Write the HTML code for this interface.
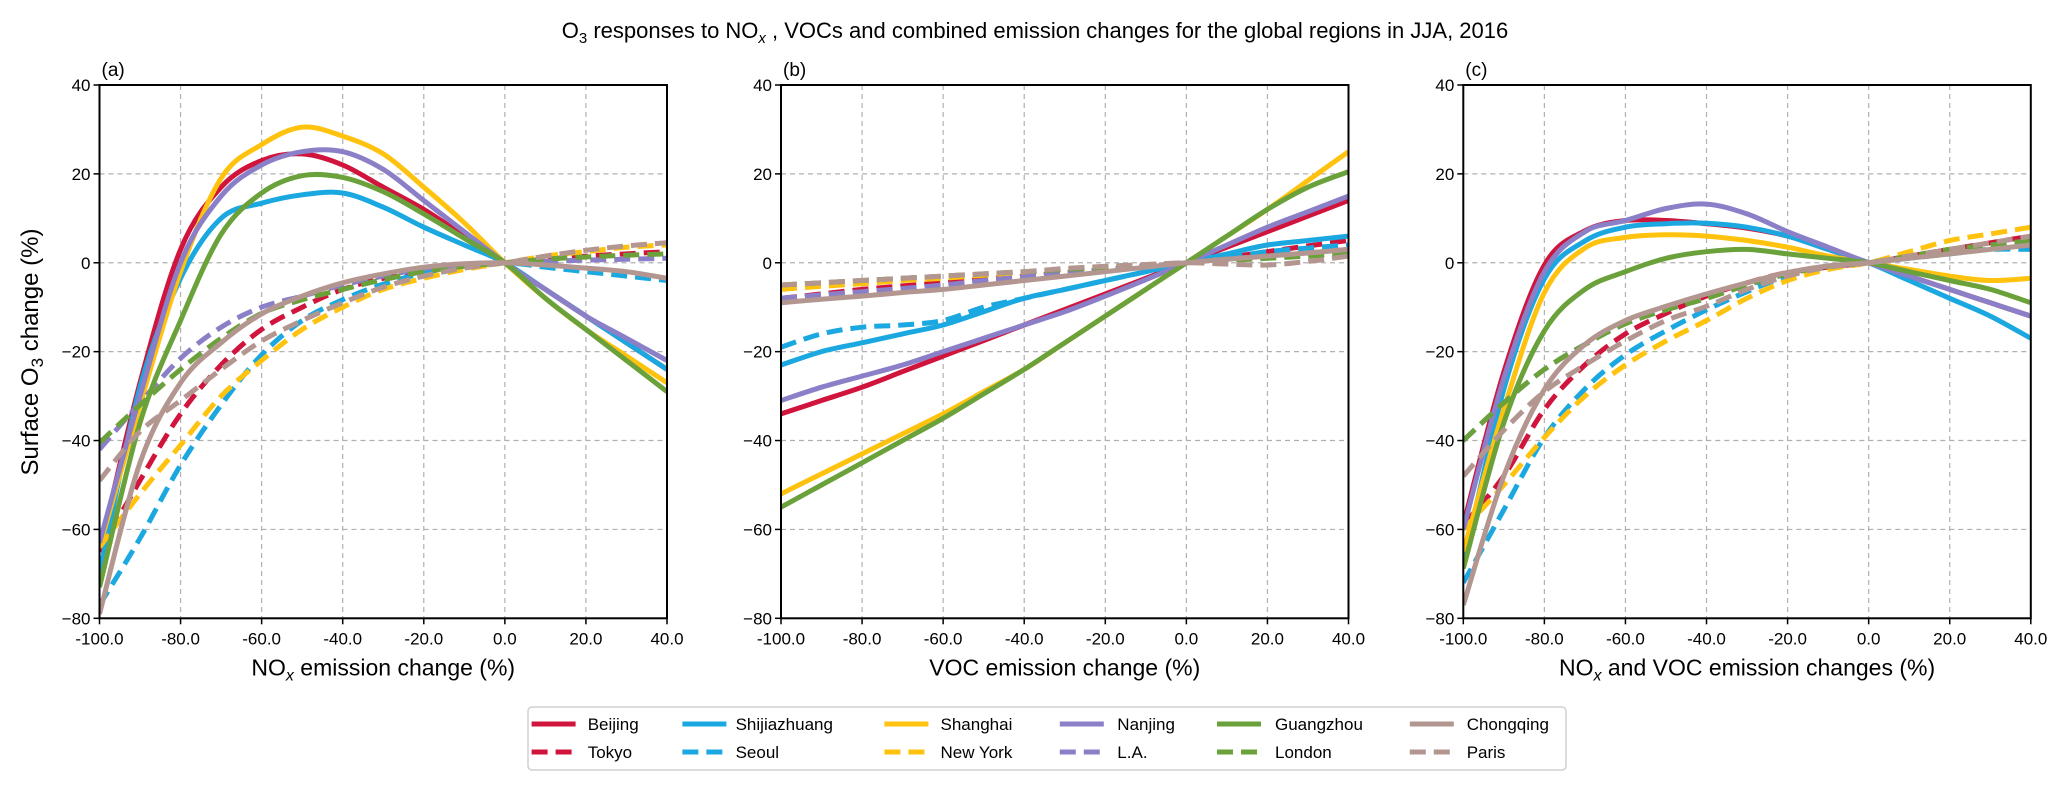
<!DOCTYPE html>
<html><head><meta charset="utf-8"><style>
html,body{margin:0;padding:0;background:#fff;}
svg{display:block;font-family:"Liberation Sans",Arial,sans-serif;}
</style></head><body>
<svg id="chart" width="2067" height="789" viewBox="0 0 2067 789" xmlns="http://www.w3.org/2000/svg">
<text x="1035" y="38" font-size="22" text-anchor="middle">O<tspan font-size="15" dy="5">3</tspan><tspan dy="-5"> responses to NO</tspan><tspan font-size="15" dy="5" font-style="italic">x</tspan><tspan dy="-5"> , VOCs and combined emission changes for the global regions in JJA, 2016</tspan></text>
<text transform="translate(38,352) rotate(-90)" font-size="24" text-anchor="middle">Surface O<tspan font-size="17" dy="5">3</tspan><tspan dy="-5"> change (%)</tspan></text>
<g id="panels"></g>
<g id="legend"></g>
</svg>
<script>
const xCats = [-100,-90,-80,-70,-60,-50,-40,-30,-20,-10,0,10,20,30,40];
const yTicks = [40,20,0,-20,-40,-60,-80];
const xTicks = [-100,-80,-60,-40,-20,0,20,40];
const cities = ["Beijing","Tokyo","Shijiazhuang","Seoul","Shanghai","New York","Nanjing","L.A.","Guangzhou","London","Chongqing","Paris"];
const panelALabels = ["(a)","(b)","(c)"];

const aBeijing=[-65,-27,3,17,23,24.5,22,17,12,6,0,-6,-12,-18,-24];
const aTokyo=[-65,-49,-34,-23,-15,-10,-6,-3.5,-1.8,-0.6,0,0.8,1.5,2,2.5];
const aShijiazhuang=[-70,-28,-3.5,10,13.4,15.3,15.7,12.5,8,4,0,-6,-12,-18,-24];
const aSeoul=[-77,-62,-45.5,-32,-20.7,-13,-8.3,-4.8,-2.3,-0.8,0,-1,-2,-3,-4];
const aShanghai=[-64,-32,-2,19,26.6,30.5,28.5,24.5,17,9,0,-8,-15,-21,-27];
const aNewYork=[-64,-52,-41,-30,-22,-15,-10,-6,-3.5,-1.5,0,1.5,2.5,3.5,4];
const aNanjing=[-63,-30,0,15,22,25,25,21,14,7,0,-6,-12,-17,-22];
const aLA=[-42,-31.5,-21.5,-14.5,-10,-7.5,-5,-3,-1.3,-0.4,0,0.3,0.6,0.8,1];
const aGuangzhou=[-73,-36,-13,6.4,15.7,19.6,19.2,16,11,5.5,0,-8,-15,-22,-29];
const aLondon=[-40.5,-32,-24,-17,-11.4,-8.3,-6,-3.8,-2,-0.8,0,0.8,1.3,1.7,2];
const aChongqing=[-79,-45,-27,-18,-11.5,-7.5,-4.5,-2.5,-1,-0.2,0,-0.5,-1.2,-2,-3.5];
const aParis=[-49,-38,-31,-24,-17.6,-13,-9,-5.5,-3,-1.2,0,1.5,2.8,3.8,4.5];

const bBeijing=[-34,-31,-28,-24.5,-21,-17.5,-14,-10.5,-7,-3.5,0,3.5,7,10.5,14];
const bTokyo=[-8,-7,-6,-5.2,-4.5,-3.7,-3,-2.2,-1.5,-0.7,0,1.2,2.5,3.8,5];
const bShijiazhuang=[-23,-20,-18,-16,-14,-11,-8,-6,-4,-2,0,2,4,5,6];
const bSeoul=[-19,-16,-14.5,-14,-13,-10,-8,-6,-4,-2,0,1.2,2.5,3.3,4];
const bShanghai=[-52,-47.5,-43,-38.5,-34,-29,-24,-18,-12,-6,0,6,12,18.5,25];
const bNewYork=[-6,-5.3,-4.7,-4,-3.5,-2.8,-2.2,-1.6,-1,-0.5,0,0.8,1.5,2.2,3];
const bNanjing=[-31,-28,-25.5,-23,-20,-17,-14,-11,-7.5,-3.8,0,4,8,11.5,15];
const bLA=[-8,-7.2,-6.5,-5.8,-5,-4,-3.2,-2.3,-1.5,-0.7,0,0.8,1.5,2.2,3];
const bGuangzhou=[-55,-50,-45,-40,-35,-29.5,-24,-18,-12,-6,0,6,12,17,20.5];
const bLondon=[-5,-4.5,-4,-3.5,-3,-2.5,-2,-1.5,-1,-0.5,0,0.5,1,1.5,2];
const bChongqing=[-9,-8.2,-7.5,-6.7,-6,-5,-4,-3,-2,-1,0,0.8,1.5,2.2,3];
const bParis=[-5,-4.5,-4,-3.5,-3,-2.5,-2,-1.3,-0.8,-0.4,0,-0.3,-0.5,0.3,1.5];

const cBeijing=[-59,-24.6,-0.5,7.2,9.5,9.5,8.8,7.8,6,3,0,-3,-6,-9,-12];
const cTokyo=[-59,-48,-33,-23,-16,-11.4,-7.5,-4.5,-2.2,-1,0,1.5,3,4.5,6];
const cShijiazhuang=[-68,-28.5,-3.6,4.9,8,8.8,8.9,8,6,3,0,-4,-8,-12,-17];
const cSeoul=[-72,-55.6,-39.3,-28.4,-20.7,-15.3,-10.6,-6.5,-3,-1.2,0,1,2,3,3];
const cShanghai=[-65,-33,-6.7,3.3,5.7,6.3,6,5,3.5,1.5,0,-1.5,-3,-4,-3.5];
const cNewYork=[-60,-50,-39.3,-30,-23,-17.6,-13,-8,-4,-1.5,0,2.5,5,6.5,8];
const cNanjing=[-60,-26,-2,7,9.5,12.2,13.2,11,7,3.5,0,-3,-6,-9,-12];
const cLA=[-40,-31.5,-24,-18.4,-13.7,-10.6,-8,-5,-2.5,-0.8,0,1.5,3,4,5];
const cGuangzhou=[-68.8,-36,-15.3,-6,-2,1,2.5,3,2,1,0,-2,-4,-6,-9];
const cLondon=[-40,-31.5,-24,-18.4,-13.7,-10.6,-8,-5,-2.5,-0.8,0,1.5,3,4,5];
const cChongqing=[-77,-48,-28.5,-18.4,-13,-9.8,-7,-4.5,-2.2,-0.7,0,1,2,3,4];
const cParis=[-48,-37.7,-29,-23,-17.6,-13,-9.8,-6,-3,-1,0,1.5,3,4.5,6];

const series=[
 [aBeijing,aTokyo,aShijiazhuang,aSeoul,aShanghai,aNewYork,aNanjing,aLA,aGuangzhou,aLondon,aChongqing,aParis],
 [bBeijing,bTokyo,bShijiazhuang,bSeoul,bShanghai,bNewYork,bNanjing,bLA,bGuangzhou,bLondon,bChongqing,bParis],
 [cBeijing,cTokyo,cShijiazhuang,cSeoul,cShanghai,cNewYork,cNanjing,cLA,cGuangzhou,cLondon,cChongqing,cParis]];
const colors=["#d0143c","#d0143c","#1ba8e0","#1ba8e0","#ffc20e","#ffc20e","#8b7fc8","#8b7fc8","#6aa13a","#6aa13a","#b39690","#b39690"];
const NS="http://www.w3.org/2000/svg";
const panelsLeft=[99.5,781,1463.3], PW=567.5, TOP=85, BOT=618.3;
const xTitles=['NO<tspan font-size="16" dy="5" font-style="italic">x</tspan><tspan dy="-5"> emission change (%)</tspan>','VOC emission change (%)','NO<tspan font-size="16" dy="5" font-style="italic">x</tspan><tspan dy="-5"> and VOC emission changes (%)</tspan>'];
function mk(tag,attrs,parent){const e=document.createElementNS(NS,tag);for(const k in attrs)e.setAttribute(k,attrs[k]);parent.appendChild(e);return e;}
function smooth(pts){let d="M"+pts[0][0].toFixed(1)+","+pts[0][1].toFixed(1);for(let i=0;i<pts.length-1;i++){const p0=pts[i-1]||pts[i],p1=pts[i],p2=pts[i+1],p3=pts[i+2]||p2;const c1=[p1[0]+(p2[0]-p0[0])/6,p1[1]+(p2[1]-p0[1])/6],c2=[p2[0]-(p3[0]-p1[0])/6,p2[1]-(p3[1]-p1[1])/6];d+="C"+c1[0].toFixed(1)+","+c1[1].toFixed(1)+" "+c2[0].toFixed(1)+","+c2[1].toFixed(1)+" "+p2[0].toFixed(1)+","+p2[1].toFixed(1);}return d;}
const root=document.getElementById("panels");
const defs=mk("defs",{},root);
panelsLeft.forEach((L,pi)=>{
 const xs=v=>L+(v+100)/140*PW, ys=v=>TOP+(40-v)/120*(BOT-TOP);
 const g=mk("g",{},root);
 
 
 const cp=mk("clipPath",{id:"clip"+pi},defs);mk("rect",{x:L,y:TOP,width:PW,height:BOT-TOP},cp);
 xTicks.forEach(t=>{const x=xs(t);
  if(t>-100&&t<40){const gl=mk("line",{x1:x,x2:x,y1:TOP,y2:BOT,stroke:"#b0b0b0","stroke-width":1.2,"stroke-dasharray":"5,4"},g);}
  mk("line",{x1:x,x2:x,y1:BOT,y2:BOT+6,stroke:"#000","stroke-width":1.5},g);
  const tl=mk("text",{x:x,y:BOT+26,"font-size":17,"text-anchor":"middle"},g);tl.textContent=t.toFixed(1);
  });
 yTicks.forEach(t=>{const y=ys(t);
  if(t<40&&t>-80){const gl=mk("line",{x1:L,x2:L+PW,y1:y,y2:y,stroke:"#b0b0b0","stroke-width":1.2,"stroke-dasharray":"5,4"},g);}
  mk("line",{x1:L-6,x2:L,y1:y,y2:y,stroke:"#000","stroke-width":1.5},g);
  const tl=mk("text",{x:L-9,y:y+6,"font-size":17,"text-anchor":"end"},g);tl.textContent=t<0?"\u2212"+(-t):String(t);
  });
 const lg=mk("g",{"clip-path":"url(#clip"+pi+")"},g);
 series[pi].forEach((arr,si)=>{
  const pts=arr.map((v,i)=>[xs(xCats[i]),ys(v)]);
  const p=mk("path",{d:smooth(pts),fill:"none",stroke:colors[si],"stroke-width":5,"stroke-linecap":"butt"},lg);
  if(si%2===1)p.setAttribute("stroke-dasharray","16,8");
  
  });
 const fr=mk("rect",{x:L,y:TOP,width:PW,height:BOT-TOP,fill:"none",stroke:"#000","stroke-width":2},g);
 
 const pl=mk("text",{x:L+2,y:TOP-9,"font-size":19},g);pl.textContent=panelALabels[pi];
 
 const xt=mk("text",{x:L+PW/2,y:BOT+57,"font-size":23,"text-anchor":"middle"},g);xt.innerHTML=xTitles[pi];
 
});
const leg=document.getElementById("legend");
mk("rect",{x:528,y:707,width:1038,height:63,rx:4,fill:"#fff",stroke:"#d0d0d0","stroke-width":1.5},leg);
const colX=[531.6,682.4,884.4,1059.8,1217,1409.8];
const colT=[587.7,735.6,940.5,1117.3,1275,1466.7];
cities.forEach((c,i)=>{const col=Math.floor(i/2),row=i%2,y=row?752:724;
 const e=mk("g",{},leg);
 
 
 const ln=mk("line",{x1:colX[col],x2:colX[col]+44,y1:y,y2:y,stroke:colors[i],"stroke-width":5},e);
 if(row)ln.setAttribute("stroke-dasharray","16,8");
 const t=mk("text",{x:colT[col],y:y+6,"font-size":17},e);t.textContent=c;});
</script>
</body></html>
